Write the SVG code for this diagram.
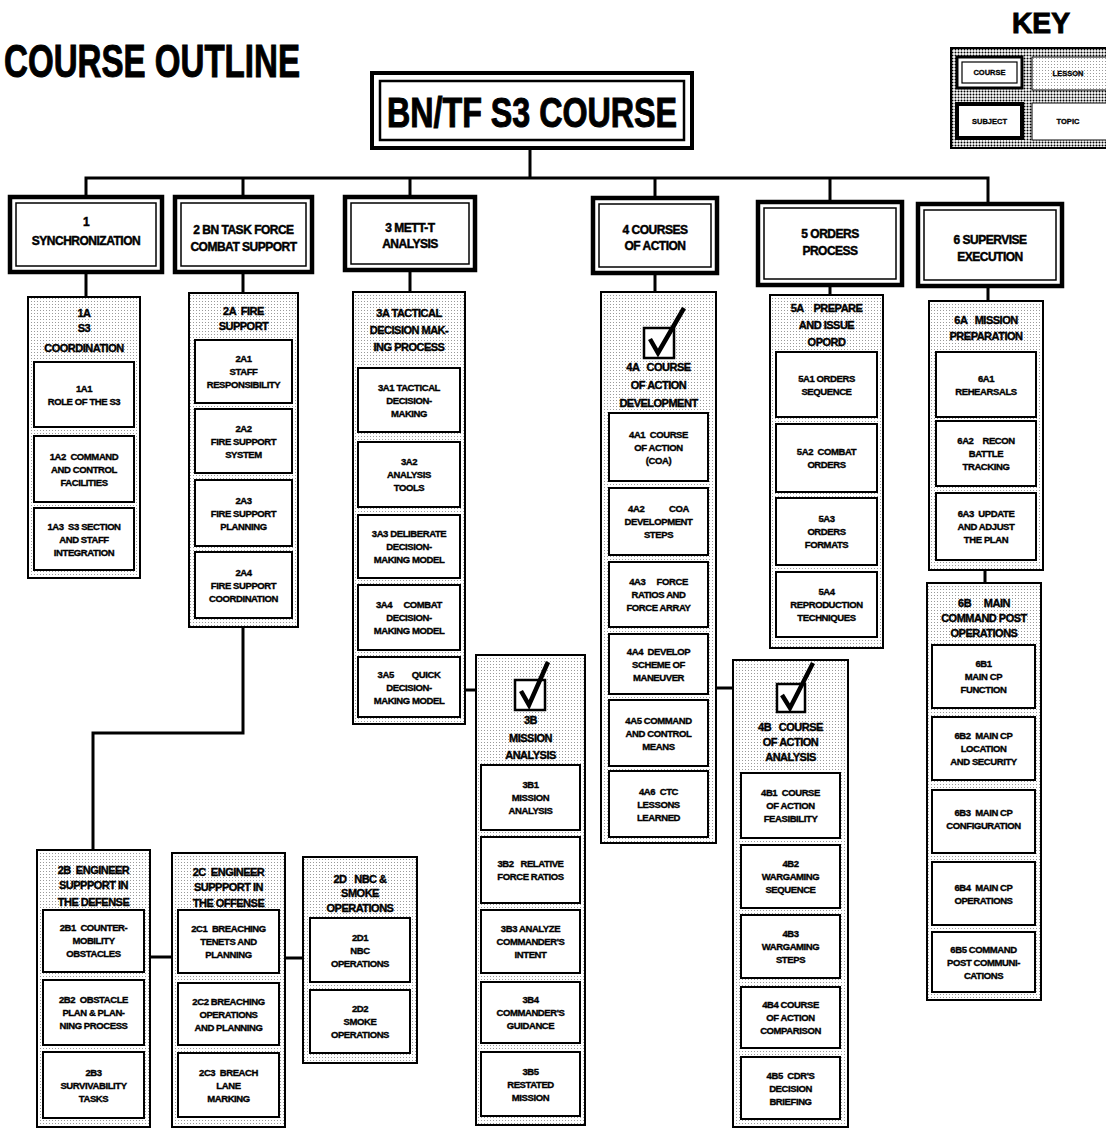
<svg xmlns="http://www.w3.org/2000/svg" width="1106" height="1129" viewBox="0 0 1106 1129">
<defs>
<pattern id="dots" width="3" height="3" patternUnits="userSpaceOnUse"><rect width="3" height="3" fill="#fff"/><rect x="1" y="1" width="1" height="1" fill="#9a9a9a"/></pattern>
<pattern id="kdots" width="3" height="3" patternUnits="userSpaceOnUse"><rect width="3" height="3" fill="#fff"/><circle cx="1.5" cy="1.5" r="1" fill="#000"/></pattern>
<style>
.tp{fill:#fff;stroke:#000;stroke-width:2}
.ls{fill:url(#dots);stroke:#000;stroke-width:2}
.sb{fill:#fff;stroke:#000;stroke-width:4.5}
.sbi{fill:none;stroke:#000;stroke-width:1.5}
text{font-family:"Liberation Sans",Arial,sans-serif;font-weight:bold;text-anchor:middle;fill:#000;stroke:#000}
.t{font-size:9.5px;letter-spacing:-0.4px;white-space:pre;stroke-width:0.35px}
.h{font-size:11px;letter-spacing:-0.5px;white-space:pre;stroke-width:0.4px}
.s{font-size:12px;letter-spacing:-0.5px;stroke-width:0.45px}
.big{stroke-width:1px}
.k{font-size:7.5px;stroke-width:0.3px}
.cn{fill:none;stroke:#000;stroke-width:3}
.ck{fill:#fff;stroke:#000;stroke-width:2.5}
.cm{fill:none;stroke:#000;stroke-width:4.5}
</style>
</defs>
<rect width="1106" height="1129" fill="#fff"/>

<text id="title" class="big" x="152" y="77" font-size="46" textLength="296" lengthAdjust="spacingAndGlyphs">COURSE OUTLINE</text>

<g id="key">
<text class="big" x="1041" y="33" font-size="30" textLength="58" lengthAdjust="spacingAndGlyphs">KEY</text>
<rect x="951" y="48" width="160" height="100" fill="url(#kdots)" stroke="#000" stroke-width="2"/>
<rect x="957" y="57" width="65" height="31" fill="#fff" stroke="#000" stroke-width="3"/>
<rect x="962" y="62" width="55" height="21" fill="none" stroke="#000" stroke-width="1.2"/>
<text class="k" x="989.5" y="75">COURSE</text>
<rect x="1032" y="57" width="80" height="33" fill="url(#dots)" stroke="#000" stroke-width="1"/>
<text class="k" x="1068" y="76">LESSON</text>
<rect x="957" y="104" width="65" height="34" fill="#fff" stroke="#000" stroke-width="4"/>
<text class="k" x="989.5" y="124">SUBJECT</text>
<rect x="1032" y="103" width="80" height="37" fill="#fff" stroke="#000" stroke-width="1"/>
<text class="k" x="1068" y="124">TOPIC</text>
</g>

<g id="connectors">
<path class="cn" d="M530,148 V178 M86,197 V178 H988 V204 M243,178 V197 M410,178 V197 M655,178 V198 M830,178 V202"/>
<path class="cn" d="M86,272 V297 M243,272 V293 M410,270 V292 M655,273 V292 M830,285 V295 M988,286 V301"/>
<path class="cn" d="M465,690 H476 M716,688 H733 M985,570 V583"/>
<path class="cn" d="M243,627 V733 H93 V850 M150,957 H172 M285,958 H303"/>
</g>

<g id="course">
<rect x="372" y="73" width="320" height="75" fill="#fff" stroke="#000" stroke-width="4"/>
<rect x="380" y="81" width="304" height="59" fill="none" stroke="#000" stroke-width="2.5"/>
<text class="big" x="532" y="127" font-size="42" textLength="290" lengthAdjust="spacingAndGlyphs">BN/TF S3 COURSE</text>
</g>

<g id="s1">
<rect class="sb" x="10" y="197" width="152" height="75"/><rect class="sbi" x="16" y="203" width="140" height="63"/>
<text class="s"><tspan x="86" y="226">1</tspan><tspan x="86" y="245">SYNCHRONIZATION</tspan></text>
</g>
<g id="s2">
<rect class="sb" x="175" y="197" width="137" height="75"/><rect class="sbi" x="181" y="203" width="125" height="63"/>
<text class="s"><tspan x="243.5" y="234">2 BN TASK FORCE</tspan><tspan x="243.5" y="251">COMBAT SUPPORT</tspan></text>
</g>
<g id="s3">
<rect class="sb" x="345" y="197" width="130" height="73"/><rect class="sbi" x="351" y="203" width="118" height="61"/>
<text class="s"><tspan x="410" y="232">3  METT-T</tspan><tspan x="410" y="248">ANALYSIS</tspan></text>
</g>
<g id="s4">
<rect class="sb" x="593" y="198" width="124" height="75"/><rect class="sbi" x="599" y="204" width="112" height="63"/>
<text class="s"><tspan x="655" y="234">4 COURSES</tspan><tspan x="655" y="250">OF ACTION</tspan></text>
</g>
<g id="s5">
<rect class="sb" x="758" y="202" width="144" height="83"/><rect class="sbi" x="764" y="208" width="132" height="71"/>
<text class="s"><tspan x="830" y="238">5 ORDERS</tspan><tspan x="830" y="255">PROCESS</tspan></text>
</g>
<g id="s6">
<rect class="sb" x="918" y="204" width="144" height="82"/><rect class="sbi" x="924" y="210" width="132" height="70"/>
<text class="s"><tspan x="990" y="244">6 SUPERVISE</tspan><tspan x="990" y="261">EXECUTION</tspan></text>
</g>

<g id="l1A">
<rect class="ls" x="28" y="297" width="112" height="281"/>
<text class="h"><tspan x="84" y="317">1A</tspan><tspan x="84" y="332">S3</tspan><tspan x="84" y="352">COORDINATION</tspan></text>
<g id="t1A1"><rect class="tp" x="34" y="362" width="100" height="65"/><text class="t"><tspan x="84" y="391.5">1A1</tspan><tspan x="84" y="404.5">ROLE OF THE S3</tspan></text></g>
<g id="t1A2"><rect class="tp" x="34" y="436" width="100" height="66"/><text class="t"><tspan x="84" y="459.5">1A2  COMMAND</tspan><tspan x="84" y="472.5">AND CONTROL</tspan><tspan x="84" y="485.5">FACILITIES</tspan></text></g>
<g id="t1A3"><rect class="tp" x="34" y="508" width="100" height="62"/><text class="t"><tspan x="84" y="529.5">1A3  S3 SECTION</tspan><tspan x="84" y="542.5">AND STAFF</tspan><tspan x="84" y="555.5">INTEGRATION</tspan></text></g>
</g>

<g id="l2A">
<rect class="ls" x="189" y="293" width="109" height="334"/>
<text class="h"><tspan x="243.5" y="315">2A  FIRE</tspan><tspan x="243.5" y="330">SUPPORT</tspan></text>
<g id="t2A1"><rect class="tp" x="195" y="340" width="97" height="63"/><text class="t"><tspan x="243.5" y="362">2A1</tspan><tspan x="243.5" y="375">STAFF</tspan><tspan x="243.5" y="388">RESPONSIBILITY</tspan></text></g>
<g id="t2A2"><rect class="tp" x="195" y="409" width="97" height="64"/><text class="t"><tspan x="243.5" y="431.5">2A2</tspan><tspan x="243.5" y="444.5">FIRE SUPPORT</tspan><tspan x="243.5" y="457.5">SYSTEM</tspan></text></g>
<g id="t2A3"><rect class="tp" x="195" y="480" width="97" height="66"/><text class="t"><tspan x="243.5" y="503.5">2A3</tspan><tspan x="243.5" y="516.5">FIRE SUPPORT</tspan><tspan x="243.5" y="529.5">PLANNING</tspan></text></g>
<g id="t2A4"><rect class="tp" x="195" y="552" width="97" height="66"/><text class="t"><tspan x="243.5" y="575.5">2A4</tspan><tspan x="243.5" y="588.5">FIRE SUPPORT</tspan><tspan x="243.5" y="601.5">COORDINATION</tspan></text></g>
</g>

<g id="l3A">
<rect class="ls" x="353" y="292" width="112" height="432"/>
<text class="h"><tspan x="409" y="317">3A TACTICAL</tspan><tspan x="409" y="334">DECISION MAK-</tspan><tspan x="409" y="351">ING PROCESS</tspan></text>
<g id="t3A1"><rect class="tp" x="358" y="368" width="102" height="64"/><text class="t"><tspan x="409" y="390.5">3A1 TACTICAL</tspan><tspan x="409" y="403.5">DECISION-</tspan><tspan x="409" y="416.5">MAKING</tspan></text></g>
<g id="t3A2"><rect class="tp" x="358" y="442" width="102" height="65"/><text class="t"><tspan x="409" y="465">3A2</tspan><tspan x="409" y="478">ANALYSIS</tspan><tspan x="409" y="491">TOOLS</tspan></text></g>
<g id="t3A3"><rect class="tp" x="358" y="515" width="102" height="63"/><text class="t"><tspan x="409" y="537">3A3 DELIBERATE</tspan><tspan x="409" y="550">DECISION-</tspan><tspan x="409" y="563">MAKING MODEL</tspan></text></g>
<g id="t3A4"><rect class="tp" x="358" y="585" width="102" height="65"/><text class="t"><tspan x="409" y="608">3A4     COMBAT</tspan><tspan x="409" y="621">DECISION-</tspan><tspan x="409" y="634">MAKING MODEL</tspan></text></g>
<g id="t3A5"><rect class="tp" x="358" y="657" width="102" height="60"/><text class="t"><tspan x="409" y="677.5">3A5        QUICK</tspan><tspan x="409" y="690.5">DECISION-</tspan><tspan x="409" y="703.5">MAKING MODEL</tspan></text></g>
</g>

<g id="l3B">
<rect class="ls" x="476" y="655" width="109" height="470"/>
<rect class="ck" x="515" y="680" width="30" height="30"/>
<path class="cm" d="M521,691 L529,705 L548,662"/>
<text class="h"><tspan x="530.5" y="724">3B</tspan><tspan x="530.5" y="742">MISSION</tspan><tspan x="530.5" y="759">ANALYSIS</tspan></text>
<g id="t3B1"><rect class="tp" x="481" y="765" width="99" height="65"/><text class="t"><tspan x="530.5" y="788">3B1</tspan><tspan x="530.5" y="801">MISSION</tspan><tspan x="530.5" y="814">ANALYSIS</tspan></text></g>
<g id="t3B2"><rect class="tp" x="481" y="837" width="99" height="66"/><text class="t"><tspan x="530.5" y="866.5">3B2   RELATIVE</tspan><tspan x="530.5" y="879.5">FORCE RATIOS</tspan></text></g>
<g id="t3B3"><rect class="tp" x="481" y="910" width="99" height="63"/><text class="t"><tspan x="530.5" y="932">3B3 ANALYZE</tspan><tspan x="530.5" y="945">COMMANDER'S</tspan><tspan x="530.5" y="958">INTENT</tspan></text></g>
<g id="t3B4"><rect class="tp" x="481" y="982" width="99" height="61"/><text class="t"><tspan x="530.5" y="1003">3B4</tspan><tspan x="530.5" y="1016">COMMANDER'S</tspan><tspan x="530.5" y="1029">GUIDANCE</tspan></text></g>
<g id="t3B5"><rect class="tp" x="481" y="1052" width="99" height="64"/><text class="t"><tspan x="530.5" y="1074.5">3B5</tspan><tspan x="530.5" y="1087.5">RESTATED</tspan><tspan x="530.5" y="1100.5">MISSION</tspan></text></g>
</g>

<g id="l4A">
<rect class="ls" x="601" y="292" width="115" height="551"/>
<rect class="ck" x="644" y="328" width="30" height="30"/>
<path class="cm" d="M650,339 L658,353 L684,308"/>
<text class="h"><tspan x="658.5" y="371">4A   COURSE</tspan><tspan x="658.5" y="389">OF ACTION</tspan><tspan x="658.5" y="407">DEVELOPMENT</tspan></text>
<g id="t4A1"><rect class="tp" x="609" y="413" width="99" height="68"/><text class="t"><tspan x="658.5" y="437.5">4A1  COURSE</tspan><tspan x="658.5" y="450.5">OF ACTION</tspan><tspan x="658.5" y="463.5">(COA)</tspan></text></g>
<g id="t4A2"><rect class="tp" x="609" y="488" width="99" height="67"/><text class="t"><tspan x="658.5" y="512">4A2           COA</tspan><tspan x="658.5" y="525">DEVELOPMENT</tspan><tspan x="658.5" y="538">STEPS</tspan></text></g>
<g id="t4A3"><rect class="tp" x="609" y="562" width="99" height="65"/><text class="t"><tspan x="658.5" y="585">4A3     FORCE</tspan><tspan x="658.5" y="598">RATIOS AND</tspan><tspan x="658.5" y="611">FORCE ARRAY</tspan></text></g>
<g id="t4A4"><rect class="tp" x="609" y="634" width="99" height="60"/><text class="t"><tspan x="658.5" y="654.5">4A4  DEVELOP</tspan><tspan x="658.5" y="667.5">SCHEME OF</tspan><tspan x="658.5" y="680.5">MANEUVER</tspan></text></g>
<g id="t4A5"><rect class="tp" x="609" y="700" width="99" height="66"/><text class="t"><tspan x="658.5" y="723.5">4A5 COMMAND</tspan><tspan x="658.5" y="736.5">AND CONTROL</tspan><tspan x="658.5" y="749.5">MEANS</tspan></text></g>
<g id="t4A6"><rect class="tp" x="609" y="771" width="99" height="66"/><text class="t"><tspan x="658.5" y="794.5">4A6  CTC</tspan><tspan x="658.5" y="807.5">LESSONS</tspan><tspan x="658.5" y="820.5">LEARNED</tspan></text></g>
</g>

<g id="l4B">
<rect class="ls" x="733" y="660" width="115" height="467"/>
<rect class="ck" x="777" y="684" width="28" height="28"/>
<path class="cm" d="M782,695 L790,708 L813,663"/>
<text class="h"><tspan x="790.5" y="731">4B   COURSE</tspan><tspan x="790.5" y="746">OF ACTION</tspan><tspan x="790.5" y="761">ANALYSIS</tspan></text>
<g id="t4B1"><rect class="tp" x="741" y="773" width="99" height="65"/><text class="t"><tspan x="790.5" y="796">4B1  COURSE</tspan><tspan x="790.5" y="809">OF ACTION</tspan><tspan x="790.5" y="822">FEASIBILITY</tspan></text></g>
<g id="t4B2"><rect class="tp" x="741" y="845" width="99" height="63"/><text class="t"><tspan x="790.5" y="867">4B2</tspan><tspan x="790.5" y="880">WARGAMING</tspan><tspan x="790.5" y="893">SEQUENCE</tspan></text></g>
<g id="t4B3"><rect class="tp" x="741" y="915" width="99" height="63"/><text class="t"><tspan x="790.5" y="937">4B3</tspan><tspan x="790.5" y="950">WARGAMING</tspan><tspan x="790.5" y="963">STEPS</tspan></text></g>
<g id="t4B4"><rect class="tp" x="741" y="987" width="99" height="61"/><text class="t"><tspan x="790.5" y="1008">4B4 COURSE</tspan><tspan x="790.5" y="1021">OF ACTION</tspan><tspan x="790.5" y="1034">COMPARISON</tspan></text></g>
<g id="t4B5"><rect class="tp" x="741" y="1057" width="99" height="62"/><text class="t"><tspan x="790.5" y="1078.5">4B5  CDR'S</tspan><tspan x="790.5" y="1091.5">DECISION</tspan><tspan x="790.5" y="1104.5">BRIEFING</tspan></text></g>
</g>

<g id="l5A">
<rect class="ls" x="770" y="295" width="113" height="353"/>
<text class="h"><tspan x="826.5" y="312">5A    PREPARE</tspan><tspan x="826.5" y="329">AND ISSUE</tspan><tspan x="826.5" y="346">OPORD</tspan></text>
<g id="t5A1"><rect class="tp" x="776" y="352" width="101" height="65"/><text class="t"><tspan x="826.5" y="381.5">5A1 ORDERS</tspan><tspan x="826.5" y="394.5">SEQUENCE</tspan></text></g>
<g id="t5A2"><rect class="tp" x="776" y="424" width="101" height="68"/><text class="t"><tspan x="826.5" y="455">5A2  COMBAT</tspan><tspan x="826.5" y="468">ORDERS</tspan></text></g>
<g id="t5A3"><rect class="tp" x="776" y="498" width="101" height="67"/><text class="t"><tspan x="826.5" y="522">5A3</tspan><tspan x="826.5" y="535">ORDERS</tspan><tspan x="826.5" y="548">FORMATS</tspan></text></g>
<g id="t5A4"><rect class="tp" x="776" y="572" width="101" height="65"/><text class="t"><tspan x="826.5" y="595">5A4</tspan><tspan x="826.5" y="608">REPRODUCTION</tspan><tspan x="826.5" y="621">TECHNIQUES</tspan></text></g>
</g>

<g id="l6A">
<rect class="ls" x="929" y="301" width="114" height="269"/>
<text class="h"><tspan x="986" y="324">6A   MISSION</tspan><tspan x="986" y="340">PREPARATION</tspan></text>
<g id="t6A1"><rect class="tp" x="936" y="352" width="100" height="65"/><text class="t"><tspan x="986" y="381.5">6A1</tspan><tspan x="986" y="394.5">REHEARSALS</tspan></text></g>
<g id="t6A2"><rect class="tp" x="936" y="421" width="100" height="65"/><text class="t"><tspan x="986" y="444">6A2    RECON</tspan><tspan x="986" y="457">BATTLE</tspan><tspan x="986" y="470">TRACKING</tspan></text></g>
<g id="t6A3"><rect class="tp" x="936" y="493" width="100" height="67"/><text class="t"><tspan x="986" y="517">6A3  UPDATE</tspan><tspan x="986" y="530">AND ADJUST</tspan><tspan x="986" y="543">THE PLAN</tspan></text></g>
</g>

<g id="l6B">
<rect class="ls" x="927" y="583" width="114" height="417"/>
<text class="h"><tspan x="984" y="607">6B     MAIN</tspan><tspan x="984" y="622">COMMAND POST</tspan><tspan x="984" y="637">OPERATIONS</tspan></text>
<g id="t6B1"><rect class="tp" x="932" y="645" width="103" height="63"/><text class="t"><tspan x="983.5" y="667">6B1</tspan><tspan x="983.5" y="680">MAIN CP</tspan><tspan x="983.5" y="693">FUNCTION</tspan></text></g>
<g id="t6B2"><rect class="tp" x="932" y="717" width="103" height="63"/><text class="t"><tspan x="983.5" y="739">6B2  MAIN CP</tspan><tspan x="983.5" y="752">LOCATION</tspan><tspan x="983.5" y="765">AND SECURITY</tspan></text></g>
<g id="t6B3"><rect class="tp" x="932" y="790" width="103" height="63"/><text class="t"><tspan x="983.5" y="816">6B3  MAIN CP</tspan><tspan x="983.5" y="829">CONFIGURATION</tspan></text></g>
<g id="t6B4"><rect class="tp" x="932" y="862" width="103" height="63"/><text class="t"><tspan x="983.5" y="890.5">6B4  MAIN CP</tspan><tspan x="983.5" y="903.5">OPERATIONS</tspan></text></g>
<g id="t6B5"><rect class="tp" x="932" y="932" width="103" height="60"/><text class="t"><tspan x="983.5" y="952.5">6B5 COMMAND</tspan><tspan x="983.5" y="965.5">POST COMMUNI-</tspan><tspan x="983.5" y="978.5">CATIONS</tspan></text></g>
</g>

<g id="l2B">
<rect class="ls" x="37" y="850" width="113" height="277"/>
<text class="h"><tspan x="93.5" y="874">2B  ENGINEER</tspan><tspan x="93.5" y="889">SUPPPORT IN</tspan><tspan x="93.5" y="906">THE DEFENSE</tspan></text>
<g id="t2B1"><rect class="tp" x="43" y="910" width="101" height="62"/><text class="t"><tspan x="93.5" y="930.5">2B1  COUNTER-</tspan><tspan x="93.5" y="943.5">MOBILITY</tspan><tspan x="93.5" y="956.5">OBSTACLES</tspan></text></g>
<g id="t2B2"><rect class="tp" x="43" y="980" width="101" height="65"/><text class="t"><tspan x="93.5" y="1003">2B2  OBSTACLE</tspan><tspan x="93.5" y="1016">PLAN &amp; PLAN-</tspan><tspan x="93.5" y="1029">NING PROCESS</tspan></text></g>
<g id="t2B3"><rect class="tp" x="43" y="1052" width="101" height="66"/><text class="t"><tspan x="93.5" y="1075.5">2B3</tspan><tspan x="93.5" y="1088.5">SURVIVABILITY</tspan><tspan x="93.5" y="1101.5">TASKS</tspan></text></g>
</g>

<g id="l2C">
<rect class="ls" x="172" y="853" width="113" height="274"/>
<text class="h"><tspan x="228.5" y="876">2C  ENGINEER</tspan><tspan x="228.5" y="891">SUPPPORT IN</tspan><tspan x="228.5" y="907">THE OFFENSE</tspan></text>
<g id="t2C1"><rect class="tp" x="178" y="910" width="101" height="63"/><text class="t"><tspan x="228.5" y="932">2C1  BREACHING</tspan><tspan x="228.5" y="945">TENETS AND</tspan><tspan x="228.5" y="958">PLANNING</tspan></text></g>
<g id="t2C2"><rect class="tp" x="178" y="983" width="101" height="62"/><text class="t"><tspan x="228.5" y="1004.5">2C2 BREACHING</tspan><tspan x="228.5" y="1017.5">OPERATIONS</tspan><tspan x="228.5" y="1030.5">AND PLANNING</tspan></text></g>
<g id="t2C3"><rect class="tp" x="178" y="1053" width="101" height="64"/><text class="t"><tspan x="228.5" y="1075.5">2C3  BREACH</tspan><tspan x="228.5" y="1088.5">LANE</tspan><tspan x="228.5" y="1101.5">MARKING</tspan></text></g>
</g>

<g id="l2D">
<rect class="ls" x="303" y="857" width="114" height="206"/>
<text class="h"><tspan x="360" y="883">2D   NBC &amp;</tspan><tspan x="360" y="897">SMOKE</tspan><tspan x="360" y="912">OPERATIONS</tspan></text>
<g id="t2D1"><rect class="tp" x="310" y="918" width="100" height="64"/><text class="t"><tspan x="360" y="940.5">2D1</tspan><tspan x="360" y="953.5">NBC</tspan><tspan x="360" y="966.5">OPERATIONS</tspan></text></g>
<g id="t2D2"><rect class="tp" x="310" y="990" width="100" height="63"/><text class="t"><tspan x="360" y="1012">2D2</tspan><tspan x="360" y="1025">SMOKE</tspan><tspan x="360" y="1038">OPERATIONS</tspan></text></g>
</g>
</svg>
